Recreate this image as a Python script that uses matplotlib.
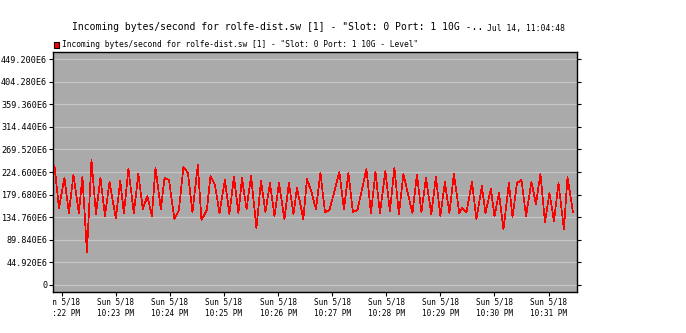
import matplotlib
matplotlib.use("Agg")
import matplotlib.pyplot as plt
import matplotlib.dates as mdates
from matplotlib.patches import Rectangle
from matplotlib.transforms import Bbox, TransformedBbox
import pandas as pd

title = 'Incoming bytes/second for rolfe-dist.sw [1] - "Slot: 0 Port: 1 10G -..'
stamp = "Jul 14, 11:04:48"
series_name = 'Incoming bytes/second for rolfe-dist.sw [1] - "Slot: 0 Port: 1 10G - Level"'

start = pd.Timestamp("2014-05-18 22:22:00")

# seconds after 10:22:00 PM (peaks and troughs)
offset_s = [-8, -3, 3, 8, 13, 19, 23, 28, 33, 38, 43, 48, 53, 60, 65, 69, 74, 80,
            85, 90, 95, 100, 104, 110, 114, 119, 125, 130, 135, 140, 145, 151, 155,
            161, 165, 170, 175, 181, 186, 191, 196, 200, 205, 210, 216, 221, 226,
            231, 236, 241, 247, 252, 257, 261, 268, 272, 277, 282, 287, 292, 297,
            308, 313, 318, 323, 328, 338, 343, 348, 353, 359, 364, 369, 374, 379,
            389, 394, 399, 404, 410, 415, 420, 425, 430, 435, 441, 444, 449, 455,
            460, 466, 470, 476, 480, 485, 490, 496, 500, 505, 510, 515, 521, 526,
            531, 536, 541, 546, 551, 557, 561, 567]

# bytes/second, in units of 1E6
level_e6 = [236.6, 152.9, 212.7, 142.9, 218.7, 142.9, 214.7, 65.2, 248.6, 140.9,
            212.7, 137.0, 204.7, 133.0, 206.7, 142.9, 230.7, 142.9, 220.7, 150.9,
            176.8, 137.0, 232.7, 150.9, 212.7, 208.7, 131.0, 148.9, 234.6, 222.7,
            144.9, 238.6, 129.0, 148.9, 216.7, 198.8, 142.9, 208.7, 140.9, 214.7,
            142.9, 212.7, 150.9, 216.7, 113.0, 206.7, 144.9, 202.7, 137.0, 202.7,
            131.0, 202.7, 140.9, 192.8, 131.0, 210.7, 184.8, 150.9, 222.7, 144.9,
            148.9, 224.7, 150.9, 222.7, 144.9, 148.9, 230.7, 142.9, 224.7, 142.9,
            226.7, 146.9, 232.7, 140.9, 220.7, 142.9, 218.7, 144.9, 212.7, 140.9,
            214.7, 137.0, 204.7, 142.9, 220.7, 142.9, 152.9, 144.9, 204.7, 131.0,
            196.8, 142.9, 190.8, 137.0, 182.8, 111.0, 202.7, 135.0, 202.7, 208.7,
            137.0, 204.7, 160.9, 220.7, 125.0, 182.8, 127.0, 202.7, 111.0, 214.7,
            144.9]

ytick_e6 = [0, 44.92, 89.84, 134.76, 179.68, 224.6, 269.52, 314.44, 359.36,
            404.28, 449.2]

times = start + pd.to_timedelta(offset_s, unit="s")
mono = "DejaVu Sans Mono"

fig = plt.figure(figsize=(6.86, 3.33), dpi=100)
ax = fig.add_axes([0.0768, 0.1222, 0.7636, 0.7225])
ax.set_facecolor("#aaaaaa")

ax.plot(times, level_e6, color="#ff0000", lw=0.5, antialiased=False, zorder=3)

ax.set_xlim(start - pd.Timedelta(seconds=10), start + pd.Timedelta(seconds=571))
ax.set_ylim(-14.6, 463.8)

ax.set_yticks(ytick_e6)
ax.set_yticklabels(["0" if v == 0 else f"{v:.3f}E6" for v in ytick_e6],
                   fontfamily=mono, fontsize=6.1)
ax.yaxis.grid(True, color="#c6c6c6", lw=0.9)
ax.set_axisbelow(True)

ax.xaxis.set_major_locator(mdates.MinuteLocator())
ax.xaxis.set_major_formatter(mdates.DateFormatter("%a %-m/%d\n%I:%M %p"))
for lab in ax.get_xticklabels():
    lab.set_fontfamily(mono)
    lab.set_fontsize(5.6)
    lab.set_linespacing(1.25)

ax.tick_params(axis="y", direction="out", length=3, width=0.8, pad=1, right=True)
ax.tick_params(axis="x", direction="out", length=3, width=0.8, pad=1)
for s in ax.spines.values():
    s.set_color("black")
    s.set_linewidth(1.0)

fig.canvas.draw()
clip = TransformedBbox(Bbox([[0, -1], [1, 2]]), ax.transAxes)
for lab in ax.get_xticklabels():
    lab.set_clip_box(clip)
    lab.set_clip_on(True)

fig.text(72 / 686, 1 - 27 / 333, title, fontfamily=mono, fontsize=7.0,
         ha="left", va="center")
fig.text(487 / 686, 1 - 28.5 / 333, stamp, fontfamily=mono, fontsize=5.8,
         ha="left", va="center")

fig.patches.append(Rectangle((53.5 / 686, 1 - 48 / 333), 5.5 / 686, 5.5 / 333,
                             transform=fig.transFigure, facecolor="#ff0000",
                             edgecolor="black", lw=0.8))
fig.text(62.5 / 686, 1 - 44.5 / 333, series_name, fontfamily=mono, fontsize=5.7,
         ha="left", va="center")

fig.savefig("out.png", dpi=100)
